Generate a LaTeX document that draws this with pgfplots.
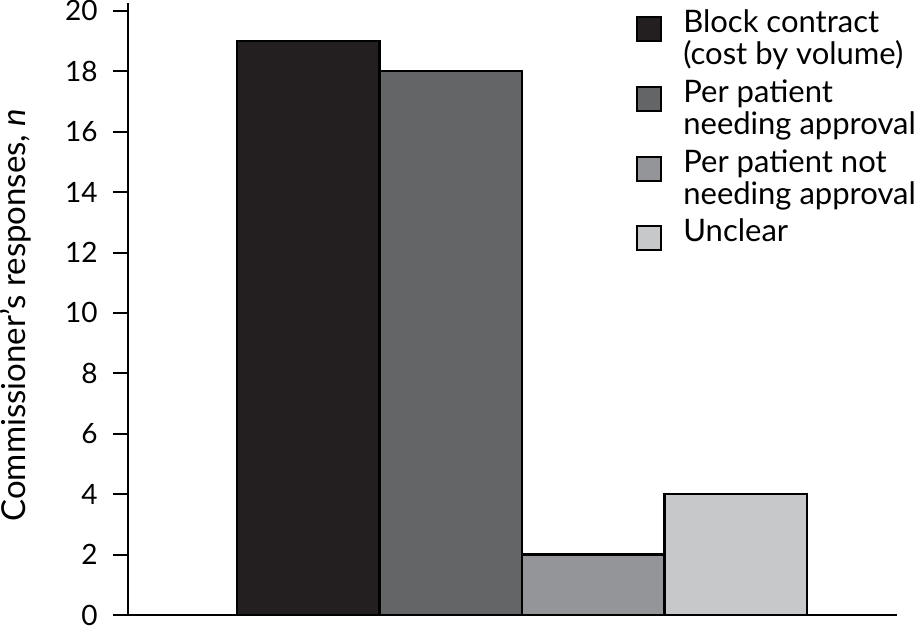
\documentclass[border=0pt]{standalone}
\usepackage{fontspec}
\setmainfont{Lato}
\usepackage{pgfplots}
\pgfplotsset{compat=1.18}

\definecolor{cblock}{HTML}{231F20}
\definecolor{cneed}{HTML}{646567}
\definecolor{cnot}{HTML}{939598}
\definecolor{cunclear}{HTML}{C7C8CA}

\pgfplotsset{
  sq two/.style={legend image code/.code={\draw[##1, line width=1.2pt] (0pt,-1.25pt) rectangle (12pt,10.75pt); \path (20.5pt,0pt);}},
  sq one/.style={legend image code/.code={\draw[##1, line width=1.2pt] (0pt,-9pt) rectangle (12pt,3pt); \path (20.5pt,0pt);}},
}

\begin{document}
\begin{tikzpicture}
\begin{axis}[
  scale only axis, width=384.5pt, height=306pt,
  xmin=-0.265, xmax=5.13, ymin=0, ymax=20.26,
  ytick={0,2,...,20}, xtick=\empty,
  axis x line*=bottom, axis y line*=left,
  axis line style={line width=1.4pt, black},
  tick align=outside, major tick length=7.5pt,
  tick style={line width=1pt, black},
  yticklabel style={inner xsep=7.5pt, inner ysep=0pt},
  font=\fontsize{14}{16}\selectfont,
  /pgf/number format/assume math mode=true,
  ylabel={Commissioner’s responses, \textit{n}},
  ylabel style={at={(axis description cs:-0.1339,0.49)}, anchor=base,
    inner sep=0pt, font=\fontsize{16.5}{18}\selectfont},
  ybar, bar width=1,
  legend cell align=left,
  legend style={draw=none, at={(0.66,0.996)}, anchor=north west,
    inner sep=0pt, row sep=2pt, cells={align=left},
    font=\fontsize{15.5}{16}\selectfont},
]
\addplot[fill=cblock, draw=black, line width=1.2pt, bar shift=0pt, sq two] coordinates {(1,19)};
\addlegendentry{Block contract\\(cost by volume)}
\addplot[fill=cneed, draw=black, line width=1.2pt, bar shift=0pt, sq two] coordinates {(2,18)};
\addlegendentry{Per patient\\needing approval}
\addplot[fill=cnot, draw=black, line width=1.2pt, bar shift=0pt, sq two] coordinates {(3,2)};
\addlegendentry{Per patient not\\needing approval}
\addplot[fill=cunclear, draw=black, line width=1.2pt, bar shift=0pt, sq one] coordinates {(4,4)};
\addlegendentry{Unclear}
\end{axis}
\pgfresetboundingbox
\path[use as bounding box] ([shift={(-64pt,-7.5pt)}]current axis.south west)
  rectangle ([shift={(13.5pt,1.5pt)}]current axis.north east);
\end{tikzpicture}
\end{document}
